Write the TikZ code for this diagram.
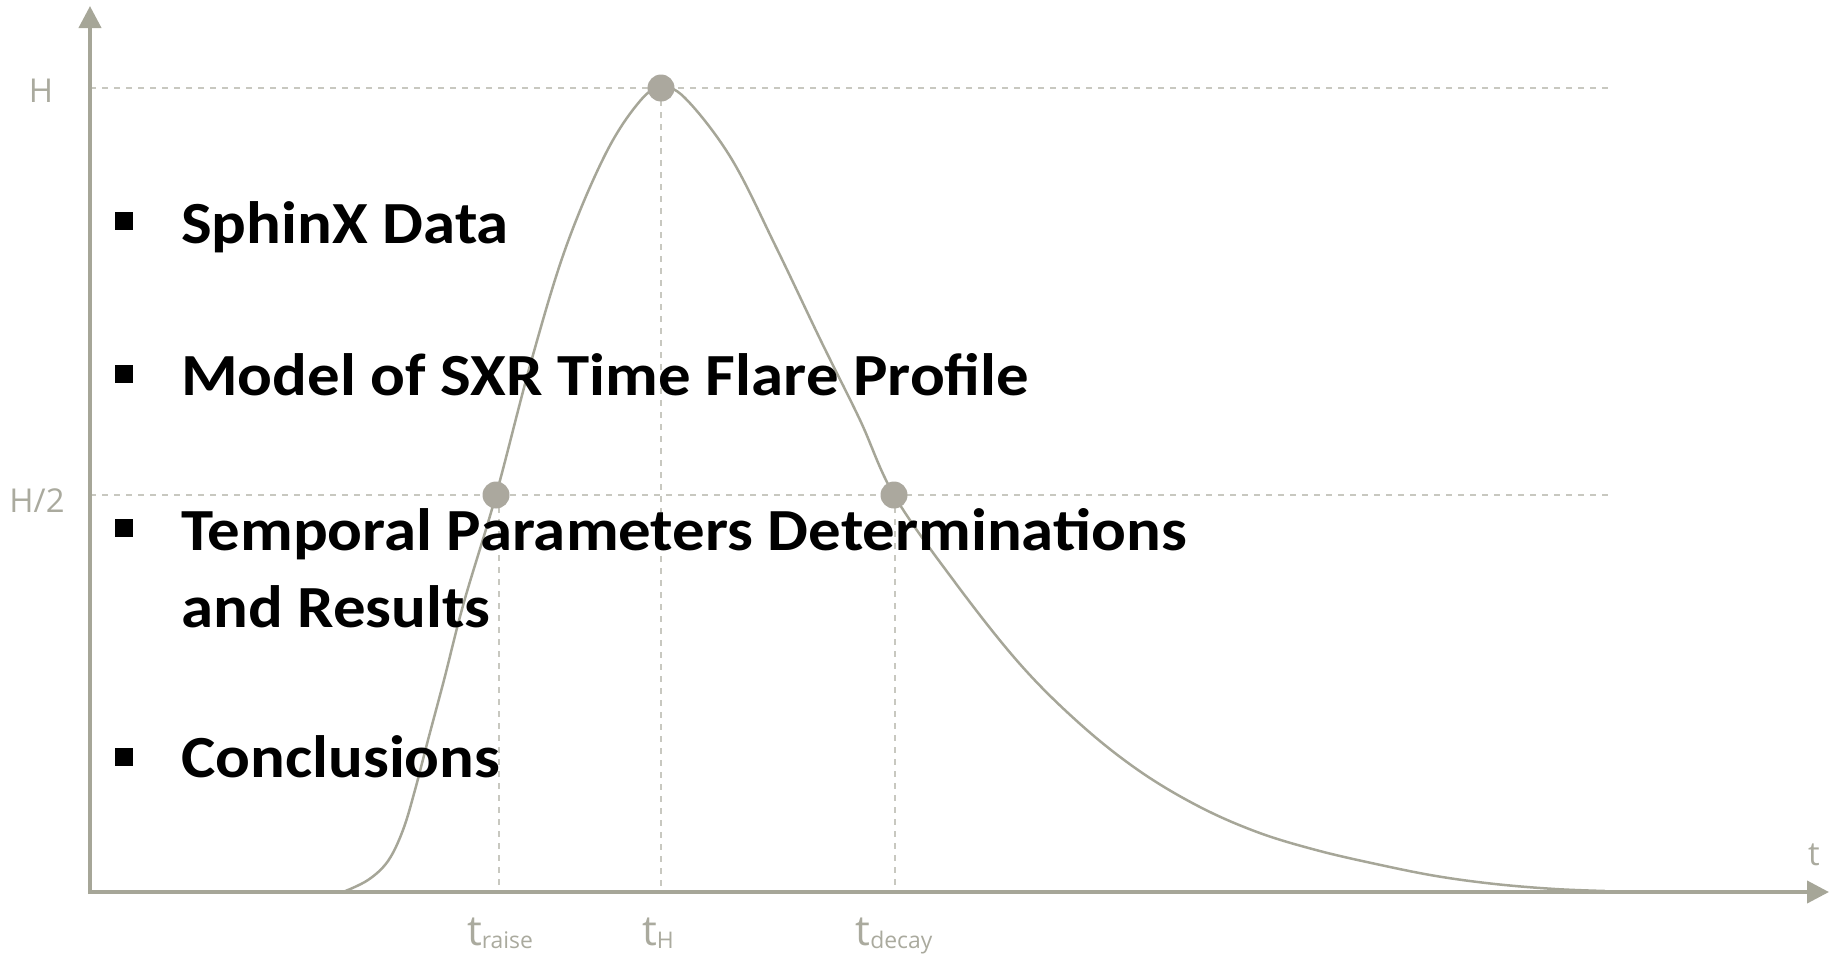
\documentclass[tikz,border=0pt]{standalone}
\usepackage{fontspec}
\setmainfont[FakeStretch=1.085]{Carlito}
\newfontfamily\axfont{Open Sans}
\usetikzlibrary{arrows.meta}
\definecolor{axgray}{RGB}{166,166,152}
\definecolor{dotgray}{RGB}{171,168,158}
\definecolor{dashgray}{RGB}{200,200,192}
\definecolor{labgray}{RGB}{170,170,158}
\newcommand{\tsub}[1]{{\fontsize{23}{26}\selectfont\raisebox{-3bp}{#1}}}
\begin{document}
\begin{tikzpicture}[x=1bp,y=-1bp,
 axis/.style={draw=axgray, line width=4bp, -{Triangle[length=22bp,width=22bp]}},
 guide/.style={draw=dashgray, line width=1.5bp, dash pattern=on 6bp off 6bp},
 curve/.style={draw=axgray, line width=2.5bp},
 dot/.style={circle, fill=dotgray, minimum size=27bp, inner sep=0},
 lab/.style={text=labgray, font=\axfont\fontsize{33}{40}\selectfont, inner sep=0, anchor=base},
 tlab/.style={text=labgray, font=\axfont\fontsize{42}{48}\selectfont, inner sep=0, anchor=base},
 item/.style={font=\bfseries\fontsize{60}{77}\selectfont, anchor=base west, inner sep=0},
 bul/.style={fill=black, minimum size=18bp, inner sep=0}
]
\useasboundingbox (0,0) rectangle (1831,954);
% coordinates
\coordinate (O) at (90,892);
\coordinate (Ybot) at (90,894);
\coordinate (Ytop) at (90,6);
\coordinate (Xbeg) at (88,892);
\coordinate (Xend) at (1829,892);
\coordinate (Hl) at (90,88);
\coordinate (Hr) at (1608,88);
\coordinate (Ml) at (90,495);
\coordinate (Mr) at (1608,495);
\coordinate (pR) at (496,495);
\coordinate (pH) at (661,88);
\coordinate (pD) at (894,495);
\coordinate (bR) at (499,892);
\coordinate (bH) at (661,892);
\coordinate (bD) at (895,892);
\coordinate (tR) at (499,495);
\coordinate (tD) at (895,495);
% guides
\draw[guide] (Hl) -- (Hr);
\draw[guide] (Ml) -- (Mr);
\draw[guide] (tR) -- (bR);
\draw[guide] (pH) -- (bH);
\draw[guide] (tD) -- (bD);
% curve
\draw[curve] plot[smooth, tension=0.6] coordinates {(343,892) (368,880) (388,861) (403,830) (415,790) (428,740) (444,680) (464,602) (496,495) (531,362) (566,247) (606,153) (640,101) (661,88) (685,98) (731,158) (776,247) (821,341) (860,420) (894,495) (954,581) (1019,663) (1079,723) (1138,770) (1198,806) (1257,832) (1316,850) (1376,864) (1436,876) (1495,884) (1555,889) (1605,891)};
% axes
\draw[axis] (Ybot) -- (Ytop);
\draw[axis] (Xbeg) -- (Xend);
% dots
\node[dot] (dR) at (pR) {};
\node[dot] (dH) at (pH) {};
\node[dot] (dD) at (pD) {};
% axis labels
\node[lab] (lH) at (41,102) {H};
\node[lab] (lM) at (37,512) {H/2};
\node[lab] (lt) at (1814,865) {t};
\node[tlab] (lR) at (500,945) {t\tsub{raise}};
\node[tlab] (lTH) at (658,945) {t\tsub{H}};
\node[tlab] (lD) at (894,945) {t\tsub{decay}};
% bullet items
\node[bul] (b1) at (124,221) {};
\node[item] (i1) at (181,243) {SphinX Data};
\node[bul] (b2) at (124,374) {};
\node[item] (i2) at (181,395) {Model of SXR Time Flare Profile};
\node[bul] (b3) at (124,528) {};
\node[item] (i3) at (181,550) {Temporal Parameters Determinations};
\node[item] (i3b) at (181,627) {and Results};
\node[bul] (b4) at (124,757) {};
\node[item] (i4) at (181,777) {Conclusions};
\end{tikzpicture}
\end{document}
